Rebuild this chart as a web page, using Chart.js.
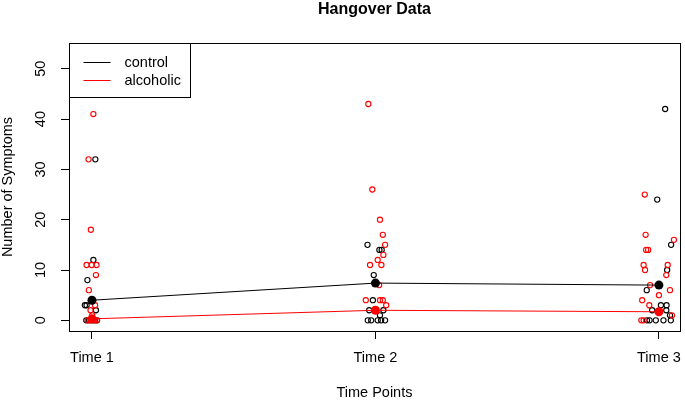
<!DOCTYPE html>
<html lang="en">
<head>
<meta charset="UTF-8">
<title>Hangover Data</title>
<script src="https://cdn.jsdelivr.net/npm/chart.js"></script>
<style>
    body {
        margin: 0;
        background: #fff;
    }
    #wrap {
        width: 685px;
        height: 400px;
    }
</style>
</head>
<body>
<div id="wrap"><canvas id="hangover-chart" width="685" height="400"></canvas></div>

<script>
    // axis labels
    const timeLabels = ['Time 1', 'Time 2', 'Time 3'];
    const yTicks = [0, 10, 20, 30, 40, 50];

    // jittered time position and symptom count of each subject
    const controlTime = [1.012, 1.005, 0.984, 0.981, 0.975, 1.014, 0.980, 0.990, 1.000, 1.010, 1.018,
        1.972, 2.014, 2.022, 1.994, 1.991, 1.978, 2.028, 2.016, 1.973, 1.985, 2.008, 2.020, 2.034,
        3.022, 2.994, 3.043, 3.029, 2.957, 3.007, 3.027, 2.976, 3.026, 3.039, 2.958, 2.967, 2.989, 3.016, 3.042];
    const controlSymptoms = [32, 12, 8, 3, 3, 2, 0, 0, 0, 0, 0,
        15, 14, 14, 9, 4, 2, 2, 1, 0, 0, 0, 0, 0,
        42, 24, 15, 10, 6, 3, 3, 2, 2, 1, 0, 0, 0, 0, 0];

    const alcoholicTime = [1.005, 0.988, 0.996, 0.981, 0.999, 1.016, 1.014, 0.989, 1.011, 0.995, 1.001, 0.985, 0.995, 1.008, 1.017,
        1.975, 1.989, 2.016, 2.026, 2.034, 2.028, 2.008, 1.981, 2.021, 2.013, 1.966, 2.016, 2.026, 2.038,
        2.950, 2.953, 3.053, 2.955, 2.962, 2.946, 3.031, 2.951, 3.026, 2.969, 3.039, 3.000, 2.941, 2.966, 3.046, 2.938, 2.946];
    const alcoholicSymptoms = [41, 32, 18, 11, 11, 11, 9, 6, 3, 2, 1, 0, 0, 0, 0,
        43, 26, 20, 17, 15, 13, 12, 11, 11, 7, 4, 4, 4, 3,
        25, 17, 16, 14, 14, 11, 11, 10, 9, 7, 6, 5, 4, 3, 1, 0, 0];

    // group centre drawn as filled dot + line
    const controlCentre = [4.0, 7.4, 7.0];
    const alcoholicCentre = [0.3, 2.0, 1.7];

    const FONT = '"Liberation Sans", Arial, Helvetica, sans-serif';
    Chart.defaults.font.family = FONT;
    Chart.defaults.color = '#000';

    function toPoints(xs, ys) {
        return xs.map((x, i) => ({ x: x, y: ys[i] }));
    }

    function centrePoints(values) {
        return values.map((v, i) => ({ x: i + 1, y: v }));
    }

    // box, rotated y labels, title and legend like base R
    const rStyle = {
        id: 'rStyle',
        afterDraw(chart) {
            const ctx = chart.ctx;
            const a = chart.chartArea;
            const yScale = chart.scales.y;
            ctx.save();
            ctx.strokeStyle = '#000';
            ctx.lineWidth = 1;
            ctx.strokeRect(Math.round(a.left) + 0.5, Math.round(a.top) + 0.5,
                Math.round(a.right - a.left), Math.round(a.bottom - a.top));

            ctx.fillStyle = '#000';
            ctx.font = '14.5px ' + FONT;
            ctx.textAlign = 'center';
            ctx.textBaseline = 'middle';
            yTicks.forEach(v => {
                ctx.save();
                ctx.translate(41, yScale.getPixelForValue(v));
                ctx.rotate(-Math.PI / 2);
                ctx.fillText(String(v), 0, 0);
                ctx.restore();
            });

            ctx.font = 'bold 16px ' + FONT;
            ctx.fillText('Hangover Data', (a.left + a.right) / 2, 10);

            // legend
            const lx = Math.round(a.left) + 0.5, ly = Math.round(a.top) + 0.5;
            ctx.strokeRect(lx, ly, 121, 54);
            const entries = [['control', '#000'], ['alcoholic', '#ff0000']];
            ctx.font = '14.5px ' + FONT;
            ctx.textAlign = 'left';
            entries.forEach((e, i) => {
                const y = ly + 19 + i * 18;
                ctx.strokeStyle = e[1];
                ctx.beginPath();
                ctx.moveTo(lx + 14, y);
                ctx.lineTo(lx + 41, y);
                ctx.stroke();
                ctx.fillText(e[0], lx + 55, y);
            });
            ctx.restore();
        }
    };

    const ctx = document.getElementById('hangover-chart').getContext('2d');
    new Chart(ctx, {
        type: 'scatter',
        data: {
            datasets: [
                {
                    label: 'control',
                    data: centrePoints(controlCentre),
                    showLine: true,
                    borderColor: '#000',
                    backgroundColor: '#000',
                    borderWidth: 1,
                    pointRadius: 4.5,
                    pointBorderWidth: 0,
                    order: 0
                },
                {
                    label: 'alcoholic',
                    data: centrePoints(alcoholicCentre),
                    showLine: true,
                    borderColor: '#ff0000',
                    backgroundColor: '#ff0000',
                    borderWidth: 1,
                    pointRadius: 4.5,
                    pointBorderWidth: 0,
                    order: 1
                },
                {
                    label: 'control subjects',
                    data: toPoints(controlTime, controlSymptoms),
                    borderColor: '#000',
                    backgroundColor: 'rgba(0,0,0,0)',
                    pointRadius: 2.6,
                    pointBorderWidth: 1.1,
                    order: 3
                },
                {
                    label: 'alcoholic subjects',
                    data: toPoints(alcoholicTime, alcoholicSymptoms),
                    borderColor: '#ff0000',
                    backgroundColor: 'rgba(0,0,0,0)',
                    pointRadius: 2.6,
                    pointBorderWidth: 1.1,
                    order: 2
                }
            ]
        },
        options: {
            responsive: false,
            animation: false,
            layout: { padding: { top: 43, right: 2, left: 0, bottom: 0 } },
            plugins: {
                legend: { display: false },
                title: { display: false },
                tooltip: { enabled: false }
            },
            scales: {
                x: {
                    type: 'linear',
                    min: 0.919,
                    max: 3.074,
                    border: { display: false },
                    grid: { drawOnChartArea: false, drawTicks: true, tickLength: 8, color: '#000' },
                    afterBuildTicks: s => { s.ticks = timeLabels.map((_, i) => ({ value: i + 1 })); },
                    afterFit: s => {
                        s.height = 69;
                        s.paddingLeft = 0;
                        s.paddingRight = 0;
                    },
                    ticks: {
                        autoSkip: false,
                        maxRotation: 0,
                        padding: 10,
                        font: { size: 14.5 },
                        callback: v => timeLabels[v - 1]
                    },
                    title: {
                        display: true,
                        text: 'Time Points',
                        font: { size: 14.5, lineHeight: 1 },
                        padding: 0
                    }
                },
                y: {
                    min: -2.12,
                    max: 55.12,
                    border: { display: false },
                    grid: { drawOnChartArea: false, drawTicks: true, tickLength: 8, color: '#000' },
                    afterBuildTicks: s => { s.ticks = yTicks.map(v => ({ value: v })); },
                    afterFit: s => {
                        s.width = 69;
                        s.paddingTop = 0;
                        s.paddingBottom = 0;
                    },
                    ticks: { display: false },
                    title: {
                        display: true,
                        text: 'Number of Symptoms',
                        font: { size: 14.5, lineHeight: 1.1 },
                        padding: 0
                    }
                }
            }
        },
        plugins: [rStyle]
    });
</script>
</body>
</html>
